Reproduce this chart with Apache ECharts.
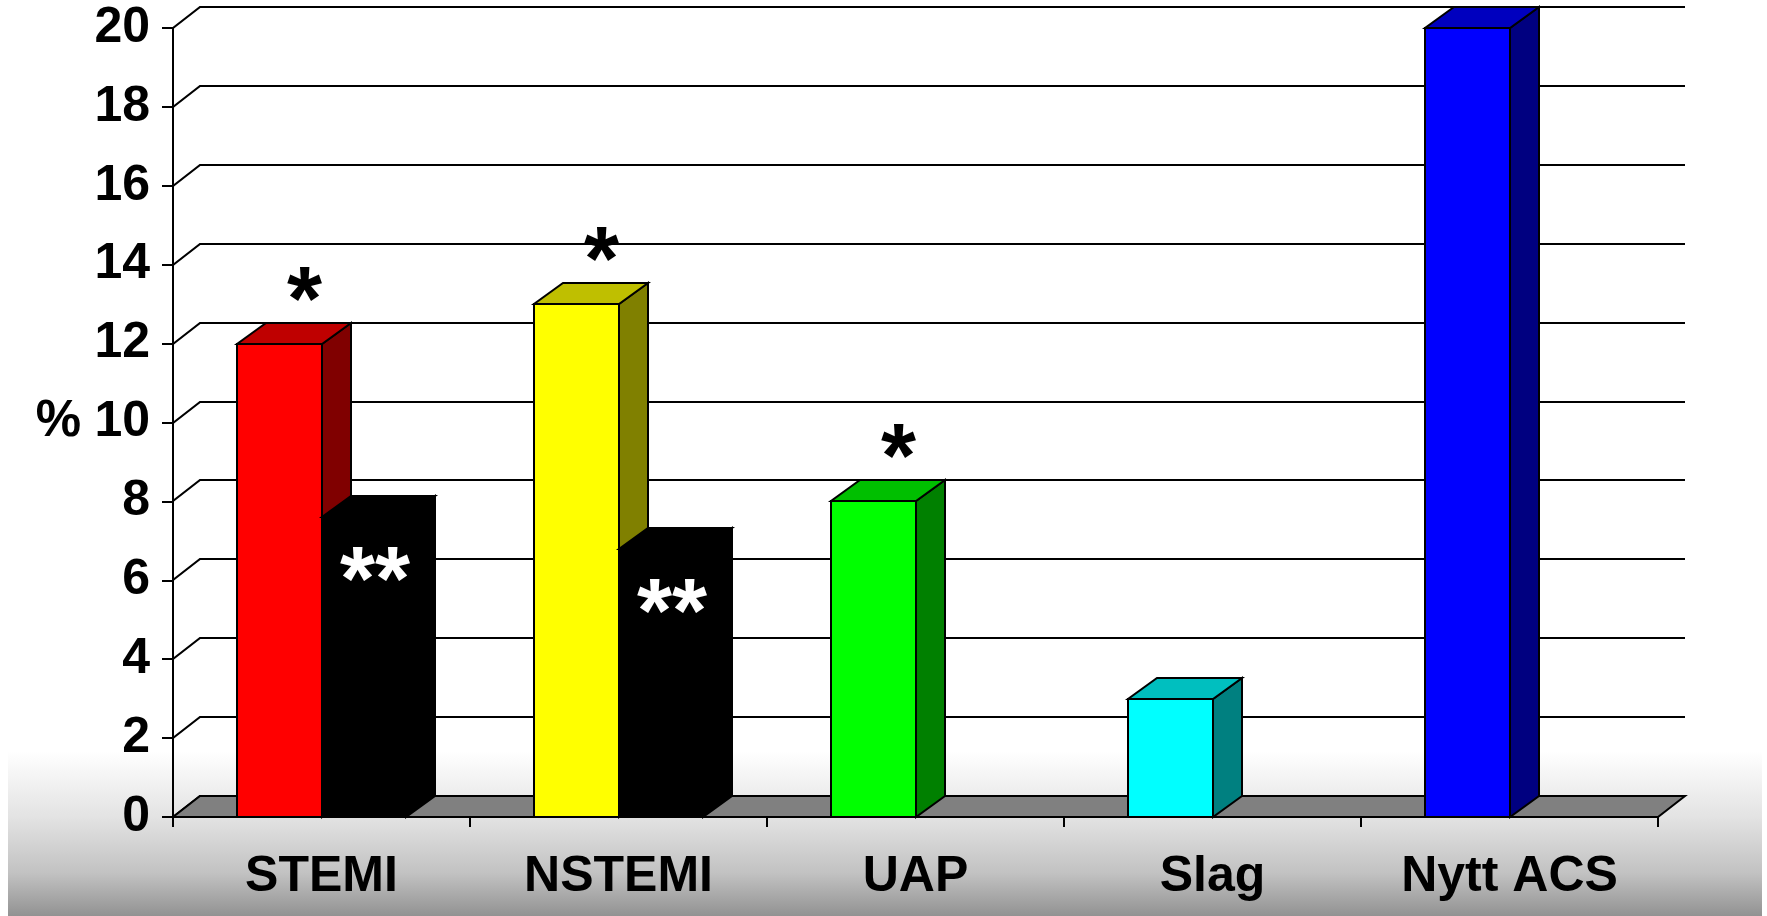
<!DOCTYPE html>
<html>
<head>
<meta charset="utf-8">
<script src="https://cdn.jsdelivr.net/npm/echarts@6/dist/echarts.min.js"></script>
<style>
  html, body { margin: 0; padding: 0; background: #ffffff; }
  #chart { width: 1767px; height: 916px; }
</style>
</head>
<body>
<div id="chart"></div>
<script>
// ---- data ----
const categories = ['STEMI', 'NSTEMI', 'UAP', 'Slag', 'Nytt ACS'];
const primaryValues = [12, 13, 8, 3, 20];
const secondaryValues = [7.6, 6.8, null, null, null];
const primaryMarks = ['*', '*', '*', '', ''];
const secondaryMarks = ['**', '**', '', '', ''];
const yTicks = [0, 2, 4, 6, 8, 10, 12, 14, 16, 18, 20];
const yUnit = '%';

// ---- styling ----
const FONT = '"Liberation Sans", Arial, Helvetica, sans-serif';
const barColors = ['#FF0000', '#FFFF00', '#00FF00', '#00FFFF', '#0000FF'];
const secondaryColor = '#000000';
const WALL_DX = 27, WALL_DY = -21;   // depth of the back wall / floor
const BAR_DX = 29, BAR_DY = -21;     // depth of each column
const BAR_RATIO = 0.285;             // column width as share of a category band

const R = Math.round;

function shade(hex, k) {
  const n = parseInt(hex.slice(1), 16);
  const r = Math.round(((n >> 16) & 255) * k);
  const g = Math.round(((n >> 8) & 255) * k);
  const b = Math.round((n & 255) * k);
  return 'rgb(' + r + ',' + g + ',' + b + ')';
}

// 3D column: front face, top face, right side face, plus an optional mark
function columnRenderer(colorOf, marks, slot, markStyle) {
  return function (params, api) {
    const i = api.value(0);
    const v = api.value(1);
    if (v === null || v === undefined || isNaN(v)) return null;
    const top = api.coord([i, v]);
    const base = api.coord([i, 0]);
    const w = api.size([1, 0])[0] * BAR_RATIO;
    const x0 = R(slot === 0 ? top[0] - w : top[0]);
    const x1 = R(slot === 0 ? top[0] : top[0] + w);
    const yT = R(top[1]), yB = R(base[1]);
    const c = colorOf(i);
    const stroke = { stroke: '#000', lineWidth: 2, lineJoin: 'miter' };
    const children = [
      { type: 'polygon',
        shape: { points: [[x1, yT], [x1 + BAR_DX, yT + BAR_DY], [x1 + BAR_DX, yB + BAR_DY], [x1, yB]] },
        style: Object.assign({ fill: c.side }, stroke) },
      { type: 'polygon',
        shape: { points: [[x0, yT], [x1, yT], [x1 + BAR_DX, yT + BAR_DY], [x0 + BAR_DX, yT + BAR_DY]] },
        style: Object.assign({ fill: c.top }, stroke) },
      { type: 'polygon',
        shape: { points: [[x0, yT], [x1, yT], [x1, yB], [x0, yB]] },
        style: Object.assign({ fill: c.front }, stroke) }
    ];
    const m = marks[i];
    if (m) {
      const cx = (x0 + x1) / 2 + markStyle.dx;
      children.push({
        type: 'text',
        style: {
          text: m, x: cx, y: yT + markStyle.dy,
          fill: markStyle.color, font: 'bold ' + markStyle.size + 'px ' + FONT,
          align: 'center', verticalAlign: 'middle'
        }
      });
    }
    return { type: 'group', children: children };
  };
}

const chart = echarts.init(document.getElementById('chart'), null, { renderer: 'canvas' });

const option = {
  animation: false,
  backgroundColor: '#ffffff',
  graphic: [
    {
      type: 'rect', z: -10, silent: true,
      shape: { x: 8, y: 0, width: 1754, height: 916 },
      style: {
        fill: {
          type: 'linear', x: 0, y: 0, x2: 0, y2: 1,
          colorStops: [
            { offset: 0, color: '#ffffff' },
            { offset: 0.82, color: '#ffffff' },
            { offset: 0.892, color: '#e3e3e3' },
            { offset: 0.953, color: '#c2c2c2' },
            { offset: 1, color: '#929292' }
          ]
        }
      }
    },
    {
      type: 'text', z: 10,
      style: {
        text: yUnit, x: 81, y: 422,
        font: 'bold 51px ' + FONT, fill: '#000',
        align: 'right', verticalAlign: 'middle'
      }
    }
  ],
  grid: { left: 173, top: 28, width: 1485, height: 789, containLabel: false },
  xAxis: {
    type: 'category',
    data: categories,
    boundaryGap: true,
    axisLine: { show: true, lineStyle: { color: '#000', width: 2 } },
    axisTick: { show: true, length: 10, lineStyle: { color: '#000', width: 2 } },
    axisLabel: {
      color: '#000', fontSize: 50, fontWeight: 'bold', fontFamily: FONT,
      lineHeight: 50, margin: 35, interval: 0
    },
    splitLine: { show: false },
    z: 5
  },
  yAxis: {
    type: 'value',
    min: 0, max: 20, interval: 2,
    axisLine: { show: true, lineStyle: { color: '#000', width: 2 } },
    axisTick: { show: true, length: 11, lineStyle: { color: '#000', width: 2 } },
    axisLabel: {
      color: '#000', fontSize: 50, fontWeight: 'bold', fontFamily: FONT,
      margin: 23
    },
    splitLine: { show: false },
    z: 5
  },
  series: [
    {
      // back wall grid lines with their left-wall connectors
      type: 'custom', silent: true, z: 1,
      data: yTicks.map(function (v) { return [0, v]; }),
      renderItem: function (params, api) {
        const cs = params.coordSys;
        const y = R(api.coord([0, api.value(1)])[1]);
        const x = R(cs.x), xr = R(cs.x + cs.width);
        return {
          type: 'polyline',
          shape: { points: [[x, y], [x + WALL_DX, y + WALL_DY], [xr + WALL_DX, y + WALL_DY]] },
          style: { stroke: '#000', lineWidth: 2.2, fill: null }
        };
      }
    },
    {
      // floor
      type: 'custom', silent: true, z: 1,
      data: [[0, 0]],
      renderItem: function (params, api) {
        const cs = params.coordSys;
        const y = R(api.coord([0, 0])[1]);
        const x = R(cs.x), xr = R(cs.x + cs.width);
        return {
          type: 'polygon',
          shape: { points: [[x, y], [xr, y], [xr + WALL_DX, y + WALL_DY], [x + WALL_DX, y + WALL_DY]] },
          style: { fill: '#808080', stroke: '#000', lineWidth: 2 }
        };
      }
    },
    {
      type: 'custom', z: 2,
      data: primaryValues.map(function (v, i) { return [i, v]; }),
      renderItem: columnRenderer(function (i) {
        return { front: barColors[i], top: shade(barColors[i], 0.75), side: shade(barColors[i], 0.5) };
      }, primaryMarks, 0, { dx: 25, dy: -39, size: 90, color: '#000' })
    },
    {
      type: 'custom', z: 2,
      data: secondaryValues.map(function (v, i) { return [i, v === null ? '-' : v]; }),
      renderItem: columnRenderer(function () {
        return { front: secondaryColor, top: secondaryColor, side: secondaryColor };
      }, secondaryMarks, 1, { dx: 11, dy: 68, size: 90, color: '#ffffff' })
    }
  ]
};

chart.setOption(option);
</script>
</body>
</html>
